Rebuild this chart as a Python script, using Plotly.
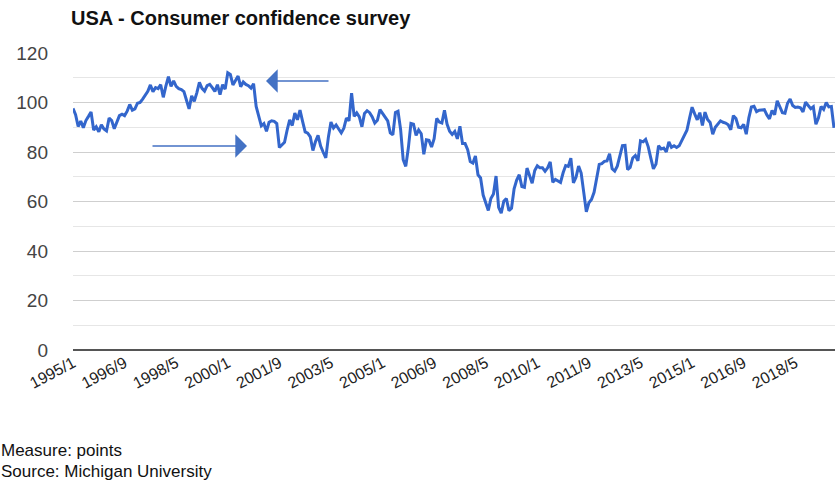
import plotly.graph_objects as go

years = list(range(1995, 2020))
values_by_year = {
    1995: [97.6, 95.1, 90.3, 92.5, 89.8, 92.7, 94.4, 96.2, 88.9, 90.2, 88.2, 91.0],
    1996: [89.3, 88.5, 93.7, 92.7, 89.4, 92.4, 94.7, 95.3, 94.7, 96.5, 99.2, 96.9],
    1997: [97.4, 99.7, 100.0, 101.4, 103.2, 104.5, 107.1, 104.4, 106.0, 105.6, 107.2, 102.1],
    1998: [106.6, 110.4, 106.5, 108.7, 106.5, 105.6, 105.2, 104.4, 100.9, 97.4, 102.7, 100.5],
    1999: [103.9, 108.1, 105.7, 104.6, 106.8, 107.3, 106.0, 104.5, 107.2, 103.2, 107.2, 105.4],
    2000: [112.0, 111.3, 107.1, 109.2, 110.7, 106.4, 108.3, 107.3, 106.8, 105.8, 107.6, 98.4],
    2001: [94.7, 90.6, 91.5, 88.4, 92.0, 92.6, 92.4, 91.5, 81.8, 82.7, 83.9, 88.8],
    2002: [93.0, 90.7, 95.7, 93.0, 96.9, 92.4, 88.1, 87.6, 86.1, 80.6, 84.2, 86.7],
    2003: [82.4, 79.9, 77.6, 86.0, 92.1, 89.7, 90.9, 89.3, 87.7, 89.6, 93.7, 92.6],
    2004: [103.8, 94.4, 95.8, 94.2, 90.2, 95.6, 96.7, 95.9, 94.2, 91.7, 92.8, 97.1],
    2005: [95.5, 94.1, 92.6, 87.7, 86.9, 96.0, 96.5, 89.1, 76.9, 74.2, 81.6, 91.5],
    2006: [91.2, 86.7, 88.9, 87.4, 79.1, 84.9, 84.7, 82.0, 85.4, 93.6, 92.1, 91.7],
    2007: [96.9, 91.3, 88.4, 87.1, 88.3, 85.3, 90.4, 83.4, 83.4, 80.9, 76.1, 75.5],
    2008: [78.4, 70.8, 69.5, 62.6, 59.8, 56.4, 61.2, 63.0, 70.3, 57.6, 55.3, 60.1],
    2009: [61.2, 56.3, 57.3, 65.1, 68.7, 70.8, 66.0, 65.7, 73.5, 70.6, 67.4, 72.5],
    2010: [74.4, 73.6, 73.6, 72.2, 73.6, 76.0, 67.8, 68.9, 68.2, 67.7, 71.6, 74.5],
    2011: [74.2, 77.5, 67.5, 69.8, 74.3, 71.5, 63.7, 55.8, 59.5, 60.8, 63.7, 69.9],
    2012: [75.0, 75.3, 76.2, 76.4, 79.3, 73.2, 72.3, 74.3, 78.3, 82.6, 82.7, 72.9],
    2013: [73.8, 77.6, 78.6, 76.4, 84.5, 84.1, 85.1, 82.1, 77.5, 73.2, 75.1, 82.5],
    2014: [81.2, 81.6, 80.0, 84.1, 81.9, 82.5, 81.8, 82.5, 84.6, 86.9, 88.8, 93.6],
    2015: [98.1, 95.4, 93.0, 95.9, 90.7, 96.1, 93.1, 91.9, 87.2, 90.0, 91.3, 92.6],
    2016: [92.0, 91.7, 91.0, 89.0, 94.7, 93.5, 90.0, 89.8, 91.2, 87.2, 93.8, 98.2],
    2017: [98.5, 96.3, 96.9, 97.0, 97.1, 95.0, 93.4, 96.8, 95.1, 100.7, 98.5, 95.9],
    2018: [95.7, 99.7, 101.4, 98.8, 98.0, 98.2, 97.9, 96.2, 100.1, 98.6, 97.5, 98.3],
    2019: [91.2, 93.8, 98.4, 97.2, 100.0, 98.2, 98.4, 89.8],
}

months = []
values = []
for y in years:
    for m, v in enumerate(values_by_year[y], start=1):
        months.append(f"{y}/{m}")
        values.append(v)

tick_labels = ["1995/1", "1996/9", "1998/5", "2000/1", "2001/9", "2003/5", "2005/1",
               "2006/9", "2008/5", "2010/1", "2011/9", "2013/5", "2015/1", "2016/9", "2018/5"]
y_ticks = [0, 20, 40, 60, 80, 100, 120]

title_text = "USA - Consumer confidence survey"
footer_lines = ["Measure: points", "Source: Michigan University"]

FONT = "Liberation Sans, Arial, sans-serif"
LINE_COLOR = "#3366CC"
ARROW_COLOR = "#4472C4"

fig = go.Figure()
fig.add_trace(go.Scatter(
    x=months, y=values, mode="lines",
    line=dict(color=LINE_COLOR, width=3),
    showlegend=False, hoverinfo="x+y",
))

W, H = 835, 481
L, R, T, B = 73, 0, 53, 131

fig.update_layout(
    width=W, height=H,
    margin=dict(l=L, r=R, t=T, b=B),
    paper_bgcolor="white", plot_bgcolor="white",
    font=dict(family=FONT, color="#444"),
    title=dict(
        text="<b>" + title_text + "</b>",
        x=71 / W, xanchor="left", xref="container",
        y=1 - 18 / H, yanchor="middle", yref="container",
        font=dict(size=20, color="#111", family=FONT),
    ),
    xaxis=dict(
        type="category",
        categoryorder="array", categoryarray=months,
        range=[0, len(months) - 0.6],
        tickmode="array", tickvals=tick_labels, ticktext=tick_labels,
        tickangle=-28,
        tickfont=dict(size=16, color="#222"),
        showgrid=False, showline=False, zeroline=False,
        ticks="",
    ),
    yaxis=dict(
        range=[0, 120],
        tickmode="array", tickvals=y_ticks,
        tickfont=dict(size=19, color="#444"),
        showgrid=True, gridcolor="#cfcfcf", gridwidth=1,
        minor=dict(dtick=10, showgrid=True, gridcolor="#e6e6e6", gridwidth=1),
        zeroline=True, zerolinecolor="#555", zerolinewidth=1.5,
        showline=False, ticks="",
        ticklabelstandoff=24,
    ),
)

pw = W - L - R
ph = H - T - B

def px_x(px):
    return (px - L) / pw

def px_y(py):
    return (H - B - py) / ph

# Arrow pointing left (upper)
fig.add_annotation(
    x=px_x(266), y=px_y(81), xref="paper", yref="paper",
    ax=64, ay=0, axref="pixel", ayref="pixel",
    showarrow=True, arrowhead=1, arrowsize=2.6, arrowwidth=1.5,
    arrowcolor=ARROW_COLOR, text="",
)
# Arrow pointing right (lower)
fig.add_annotation(
    x=px_x(247), y=px_y(146), xref="paper", yref="paper",
    ax=-96, ay=0, axref="pixel", ayref="pixel",
    showarrow=True, arrowhead=1, arrowsize=2.6, arrowwidth=1.5,
    arrowcolor=ARROW_COLOR, text="",
)

for line_text, py in zip(footer_lines, [451, 471]):
    fig.add_annotation(
        x=px_x(0), y=px_y(py), xref="paper", yref="paper",
        text=line_text, showarrow=False, xanchor="left", yanchor="middle",
        font=dict(size=17, color="#111", family=FONT),
        borderpad=0,
    )

fig.write_html("out.html")
